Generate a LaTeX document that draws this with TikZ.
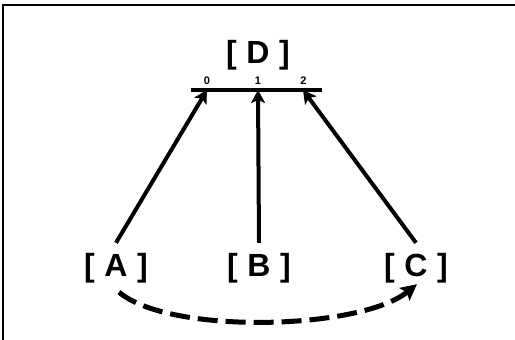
\documentclass[tikz,border=0pt]{standalone}
\usepackage{fontspec}
\setmainfont{Liberation Sans}
\usetikzlibrary{arrows.meta}
\newcommand{\brlab}[1]{[\hspace{0.3em}#1\hspace{0.3em}]}
\begin{document}
\begin{tikzpicture}[x=1pt,y=-1pt,
  lbl/.style={font=\fontsize{32}{34}\selectfont\bfseries, inner sep=0pt, minimum height=50pt},
  portlbl/.style={font=\fontsize{11}{12}\selectfont\bfseries, inner sep=0pt},
  conn/.style={line width=4pt, -{Stealth[length=13pt,width=14pt,inset=3pt]}},
  dconn/.style={line width=5pt, dash pattern=on 20pt off 8pt, -{Stealth[length=16pt,width=16pt,inset=3pt]}}]
\useasboundingbox (0,0) rectangle (515,340);
\draw[line width=1.8pt] (3,340) -- (3,5) -- (515,5);
\node[lbl, minimum height=0pt] (D) at (258,55) {\brlab{D}};
\coordinate (bl) at (191,90);
\coordinate (br) at (322,90);
\coordinate (p0) at (207,90);
\coordinate (p1) at (258,90);
\coordinate (p2) at (303,90);
\draw[line width=4pt] (bl) -- (br);
\node[portlbl] (n0) at (207,81) {0};
\node[portlbl] (n1) at (258,81) {1};
\node[portlbl] (n2) at (303.5,81) {2};
\node[lbl] (A) at (116,268) {\brlab{A}};
\node[lbl] (B) at (259,268) {\brlab{B}};
\node[lbl] (C) at (416,268) {\brlab{C}};
\draw[conn] (A.north) -- (p0);
\draw[conn] (B.north) -- (p1);
\draw[conn] (C.north) -- (p2);
\draw[dconn] ([xshift=3pt,yshift=1pt]A.south) .. controls (170,335) and (360,330) .. ([xshift=1pt,yshift=9pt]C.south);
\end{tikzpicture}
\end{document}
